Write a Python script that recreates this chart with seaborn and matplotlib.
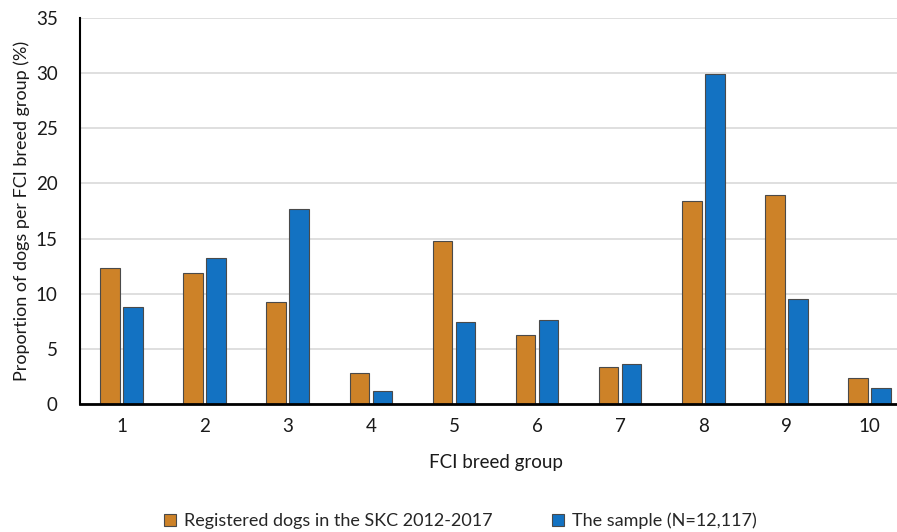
import numpy as np
import pandas as pd
import matplotlib
matplotlib.use("Agg")
import matplotlib.pyplot as plt
import seaborn as sns

groups = ["1", "2", "3", "4", "5", "6", "7", "8", "9", "10"]
registered = [12.3, 11.9, 9.25, 2.8, 14.8, 6.25, 3.35, 18.4, 18.95, 2.35]
sample = [8.8, 13.2, 17.7, 1.2, 7.4, 7.6, 3.6, 29.9, 9.5, 1.45]
series_names = ["Registered dogs in the SKC 2012-2017", "The sample (N=12,117)"]

data = pd.DataFrame({
    "group": groups * 2,
    "value": registered + sample,
    "series": [series_names[0]] * len(groups) + [series_names[1]] * len(groups),
})

sns.set_style("white")
plt.rcParams["font.family"] = ["Lato", "DejaVu Sans"]

fig = plt.figure(figsize=(8.97, 5.32), dpi=100)
ax = fig.add_axes([80 / 897, 1 - 404 / 532, 831 / 897, 386 / 532])

palette = {series_names[0]: "#CD8228", series_names[1]: "#1372C2"}
sns.barplot(data=data, x="group", y="value", hue="series", order=groups,
            hue_order=series_names, palette=palette, width=0.553, gap=0.15,
            edgecolor="#4a4a4a", linewidth=0.8, ax=ax, saturation=1)

ax.set_ylim(0, 35)
ax.set_xlim(-0.5, 9.5)
ax.set_yticks(np.arange(0, 36, 5))
ax.yaxis.grid(True, color="#d9d9d9", linewidth=1.2)
ax.set_axisbelow(True)
for s in ["top", "right"]:
    ax.spines[s].set_visible(False)
ax.spines["left"].set_color("black")
ax.spines["left"].set_linewidth(1.5)
ax.spines["bottom"].set_color("black")
ax.spines["bottom"].set_linewidth(2)
ax.tick_params(axis="y", length=0, labelsize=13.5, colors="#1a1a1a", pad=16)
ax.tick_params(axis="x", length=0, labelsize=13.5, colors="#1a1a1a", pad=10)
ax.set_xlabel("FCI breed group", fontsize=13.5, color="#1a1a1a", labelpad=14)
ax.set_ylabel("Proportion of dogs per FCI breed group (%)", fontsize=13,
              color="#1a1a1a", labelpad=4)

ax.legend(loc="center", bbox_to_anchor=(460 / 897, 11 / 532),
          bbox_transform=fig.transFigure, ncol=2, frameon=False, fontsize=13,
          handlelength=0.7, handleheight=0.7, handletextpad=0.4,
          columnspacing=3.3)

fig.savefig("out.png", dpi=100)
